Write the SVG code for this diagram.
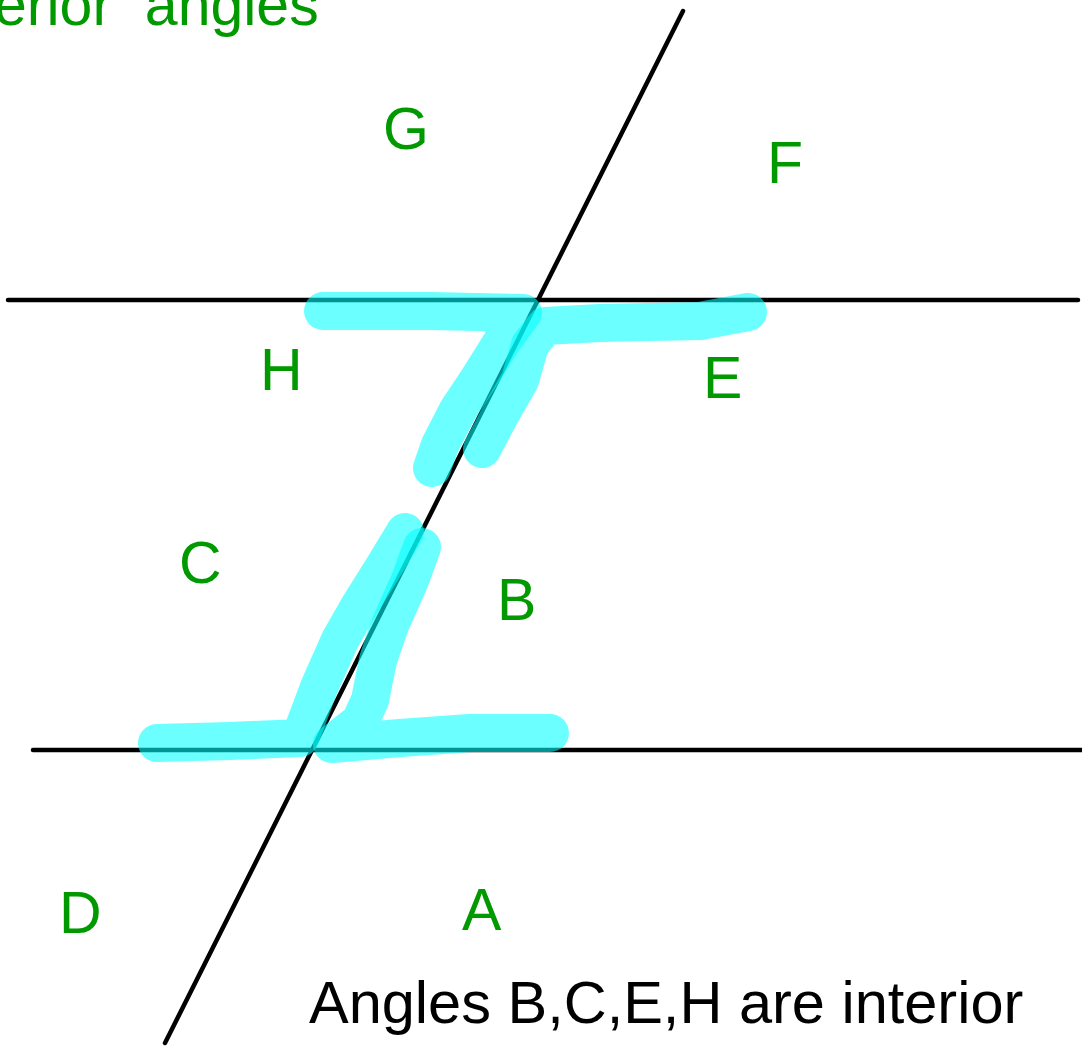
<svg xmlns="http://www.w3.org/2000/svg" width="1082" height="1046" viewBox="0 0 1082 1046">
<style>
.ln{stroke:#000;stroke-width:4.5;stroke-linecap:round;fill:none}
.hl{stroke:#00FFFF;stroke-opacity:0.58;stroke-width:38;stroke-linecap:round;stroke-linejoin:round;fill:none}
.lbl{font-family:"Liberation Sans",Arial,sans-serif;font-size:59px;fill:#009900}
.cap{font-family:"Liberation Sans",Arial,sans-serif;font-size:59.5px;fill:#000}
</style>
<rect width="1082" height="1046" fill="#fff"/>
<g id="lines">
<line class="ln" x1="8" y1="300" x2="1078" y2="300"/>
<line class="ln" x1="33" y1="750" x2="1082" y2="750"/>
<line class="ln" x1="683" y1="11" x2="165" y2="1043"/>
</g>
<g id="highlights">
<path class="hl" d="M323,311 L430,311 L523,313 L503,340 L478,380 L458,410 L440,445 L432,468"/>
<path class="hl" d="M482,449 L500,415 L520,380 L530,345 L545,326 L600,323 L700,321 L748,312"/>
<path class="hl" d="M157,743 L230,741 L300,738 L320,685 L340,640 L360,605 L385,565 L405,532"/>
<path class="hl" d="M422,547 L410,580 L390,625 L378,660 L370,700 L360,722 L332,744 L400,738 L470,733 L550,733"/>
</g>
<g id="labels">
<text class="lbl" x="-6" y="25" xml:space="preserve">erior  angles</text>
<text class="lbl" x="383" y="149">G</text>
<text class="lbl" x="767" y="183">F</text>
<text class="lbl" x="260" y="390">H</text>
<text class="lbl" x="703" y="398">E</text>
<text class="lbl" x="179" y="583">C</text>
<text class="lbl" x="497" y="620">B</text>
<text class="lbl" x="59" y="933">D</text>
<text class="lbl" x="462" y="930">A</text>
<text class="cap" x="309" y="1023">Angles B,C,E,H are interior</text>
</g>
</svg>
